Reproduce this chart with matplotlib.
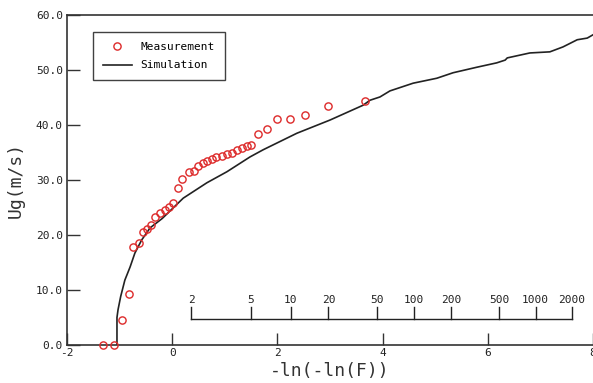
import matplotlib
matplotlib.use("Agg")
import matplotlib.pyplot as plt
import numpy as np

plt.rcParams['font.family'] = ['DejaVu Sans Mono']
plt.rcParams['axes.unicode_minus'] = False

# measured points: reduced variate -ln(-ln(F)) vs Ug (m/s)
meas_x = [-1.32, -1.11, -0.95, -0.82, -0.75, -0.63, -0.56, -0.48, -0.40, -0.33,
          -0.23, -0.14, -0.06, 0.02, 0.11, 0.19, 0.32, 0.41, 0.49, 0.59,
          0.66, 0.76, 0.83, 0.95, 1.04, 1.14, 1.23, 1.33, 1.42, 1.50,
          1.63, 1.80, 1.99, 2.24, 2.53, 2.96, 3.67]
meas_y = [0.0, 0.0, 4.6, 9.3, 17.8, 18.5, 20.5, 21.1, 21.8, 23.3,
          24.0, 24.5, 25.1, 25.8, 28.5, 30.2, 31.5, 31.6, 32.5, 33.1,
          33.5, 33.8, 34.2, 34.4, 34.7, 34.9, 35.5, 35.8, 36.2, 36.4,
          38.4, 39.3, 41.1, 41.1, 41.8, 43.5, 44.4]

# simulated curve
sim_x = [-1.05, -1.05, -1.03, -0.98, -0.90, -0.80, -0.71, -0.58, -0.42, -0.19,
         0.21, 0.66, 1.04, 1.48, 1.73, 2.37, 3.00, 3.63, 3.76, 3.95,
         4.14, 4.58, 5.03, 5.34, 5.79, 6.17, 6.33, 6.37, 6.80, 7.18,
         7.43, 7.70, 7.89, 8.0]
sim_y = [0.0, 5.0, 6.4, 8.8, 11.8, 14.2, 16.7, 19.1, 21.3, 23.0,
         26.7, 29.5, 31.5, 34.2, 35.5, 38.5, 40.9, 43.6, 44.5, 45.1,
         46.2, 47.6, 48.5, 49.5, 50.5, 51.3, 51.8, 52.2, 53.1, 53.3,
         54.2, 55.5, 55.8, 56.4]

# return periods for the secondary scale
periods = [2, 5, 10, 20, 50, 100, 200, 500, 1000, 2000]

fig = plt.figure(figsize=(5.93, 3.83), dpi=100)
ax = fig.add_axes([67 / 593, 38 / 383, 526 / 593, 330 / 383])

ax.plot(meas_x, meas_y, linestyle='none', marker='o', markersize=5.2,
        markerfacecolor='none', markeredgecolor='#dd2a2a', markeredgewidth=1.0,
        label='Measurement', clip_on=False, zorder=3)
ax.plot(sim_x, sim_y, color='#222222', linewidth=1.2, label='Simulation', zorder=2)

ax.set_xlim(-2, 8)
ax.set_ylim(0, 60)
ax.set_xticks([-2, 0, 2, 4, 6, 8])
ax.set_yticks(np.arange(0, 61, 10))
ax.set_yticklabels(['%.1f' % v for v in np.arange(0, 61, 10)])
ax.tick_params(axis='y', direction='in', length=9.5, width=1, color='#333333',
               labelsize=8, pad=3, labelcolor='#222222')
ax.tick_params(axis='x', direction='in', length=9, width=1, color='#333333',
               labelsize=8, pad=2, labelcolor='#222222')
for s in ['left', 'bottom', 'top']:
    ax.spines[s].set_color('#333333')
    ax.spines[s].set_linewidth(1.2)
ax.spines['right'].set_visible(False)

ax.set_ylabel('Ug(m/s)', fontsize=13, labelpad=8, color='#333333')
ax.set_xlabel('-ln(-ln(F))', fontsize=13, labelpad=3, color='#333333')

# return period scale drawn inside the plot
rp = [-np.log(-np.log(1 - 1.0 / t)) for t in periods]
base = 4.7
ax.plot([rp[0], rp[-1]], [base, base], color='#222222', linewidth=1)
for t, xv in zip(periods, rp):
    ax.plot([xv, xv], [base, base + 2.2], color='#222222', linewidth=1)
    ax.text(xv, base + 2.6, str(t), ha='center', va='bottom', fontsize=8,
            color='#222222')

leg = ax.legend(loc='upper left', bbox_to_anchor=(0.049, 0.948), fontsize=8,
                frameon=True, fancybox=False, edgecolor='#111111',
                borderaxespad=0, borderpad=0.9, handlelength=2.6,
                labelspacing=0.75)
leg.get_frame().set_linewidth(1)

fig.savefig('out.png', dpi=100)
